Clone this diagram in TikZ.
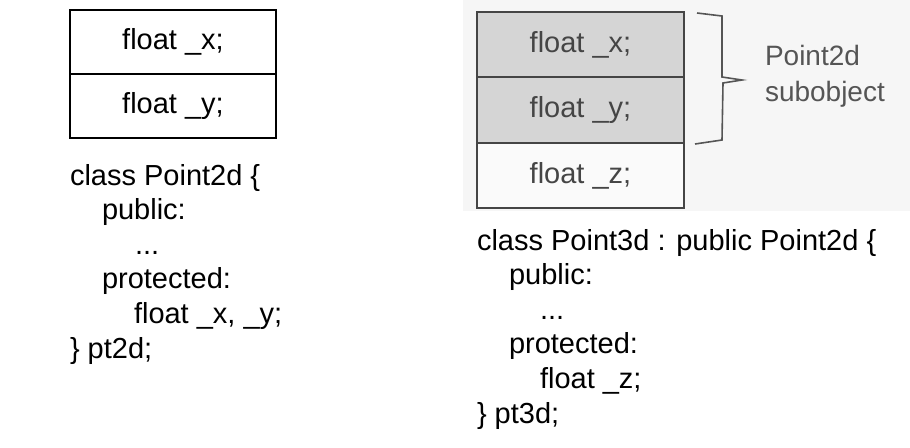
\documentclass[tikz,border=0pt]{standalone}
\usepackage{fontspec}
\setmainfont{Liberation Sans}
\definecolor{scanbg}{HTML}{F6F6F6}
\definecolor{cellgray}{HTML}{D5D5D5}
\definecolor{cellwhite}{HTML}{FAFAFA}
\definecolor{inkgray}{HTML}{454545}
\definecolor{bracegray}{HTML}{555555}
\begin{document}
\begin{tikzpicture}[x=1pt,y=-1pt,
  every node/.style={inner sep=0pt, outer sep=0pt},
  codefont/.style={font=\fontsize{29}{34}\selectfont},
  code/.style={codefont, anchor=base west},
  leftcell/.style={draw=black, line width=1.8pt, minimum width=206pt, minimum height=64pt, codefont},
  rightcell/.style={draw=inkgray, line width=1.8pt, minimum width=207pt, codefont, text=inkgray},
  label/.style={font=\fontsize{28}{34}\selectfont, text=bracegray, anchor=base west}]
\useasboundingbox (0,0) rectangle (910,447);
\fill[white] (0,0) rectangle (910,447);
\fill[scanbg] (463,0) rectangle (910,211);

% left object
\node[leftcell] (lx) at (173,42) {float \_x;};
\node[leftcell] (ly) at (173,106) {float \_y;};

% left code
\node[code] (l1) at (70,185) {class Point2d \{};
\node[code] (l2) at (102,219.6) {public:};
\node[code] (l3) at (135,254.2) {...};
\node[code] (l4) at (102,288.8) {protected:};
\node[code] (l5) at (134,323.4) {float \_x, \_y;};
\node[code] (l6) at (70,358) {\} pt2d;};

% right object
\node[rightcell, fill=cellgray, minimum height=65pt] (rx) at (580.5,44.5) {float \_x;};
\node[rightcell, fill=cellgray, minimum height=66pt] (ry) at (580.5,110) {float \_y;};
\node[rightcell, fill=cellwhite, minimum height=65pt] (rz) at (580.5,175.5) {float \_z;};

% brace
\draw[bracegray, line width=1.6pt, line join=miter]
  (697,13) -- (722,16) -- (722,77) -- (742,80) -- (723,83) -- (722,140) -- (695,144);
\node[label] (p1) at (765,65) {Point2d};
\node[label] (p2) at (765,101) {subobject};

% right code
\node[code] (r1) at (477,250) {class Point3d : public Point2d \{};
\node[code] (r2) at (509,284.6) {public:};
\node[code] (r3) at (540,319.2) {...};
\node[code] (r4) at (509,353.8) {protected:};
\node[code] (r5) at (540,388.4) {float \_z;};
\node[code] (r6) at (477,423) {\} pt3d;};
\end{tikzpicture}
\end{document}
